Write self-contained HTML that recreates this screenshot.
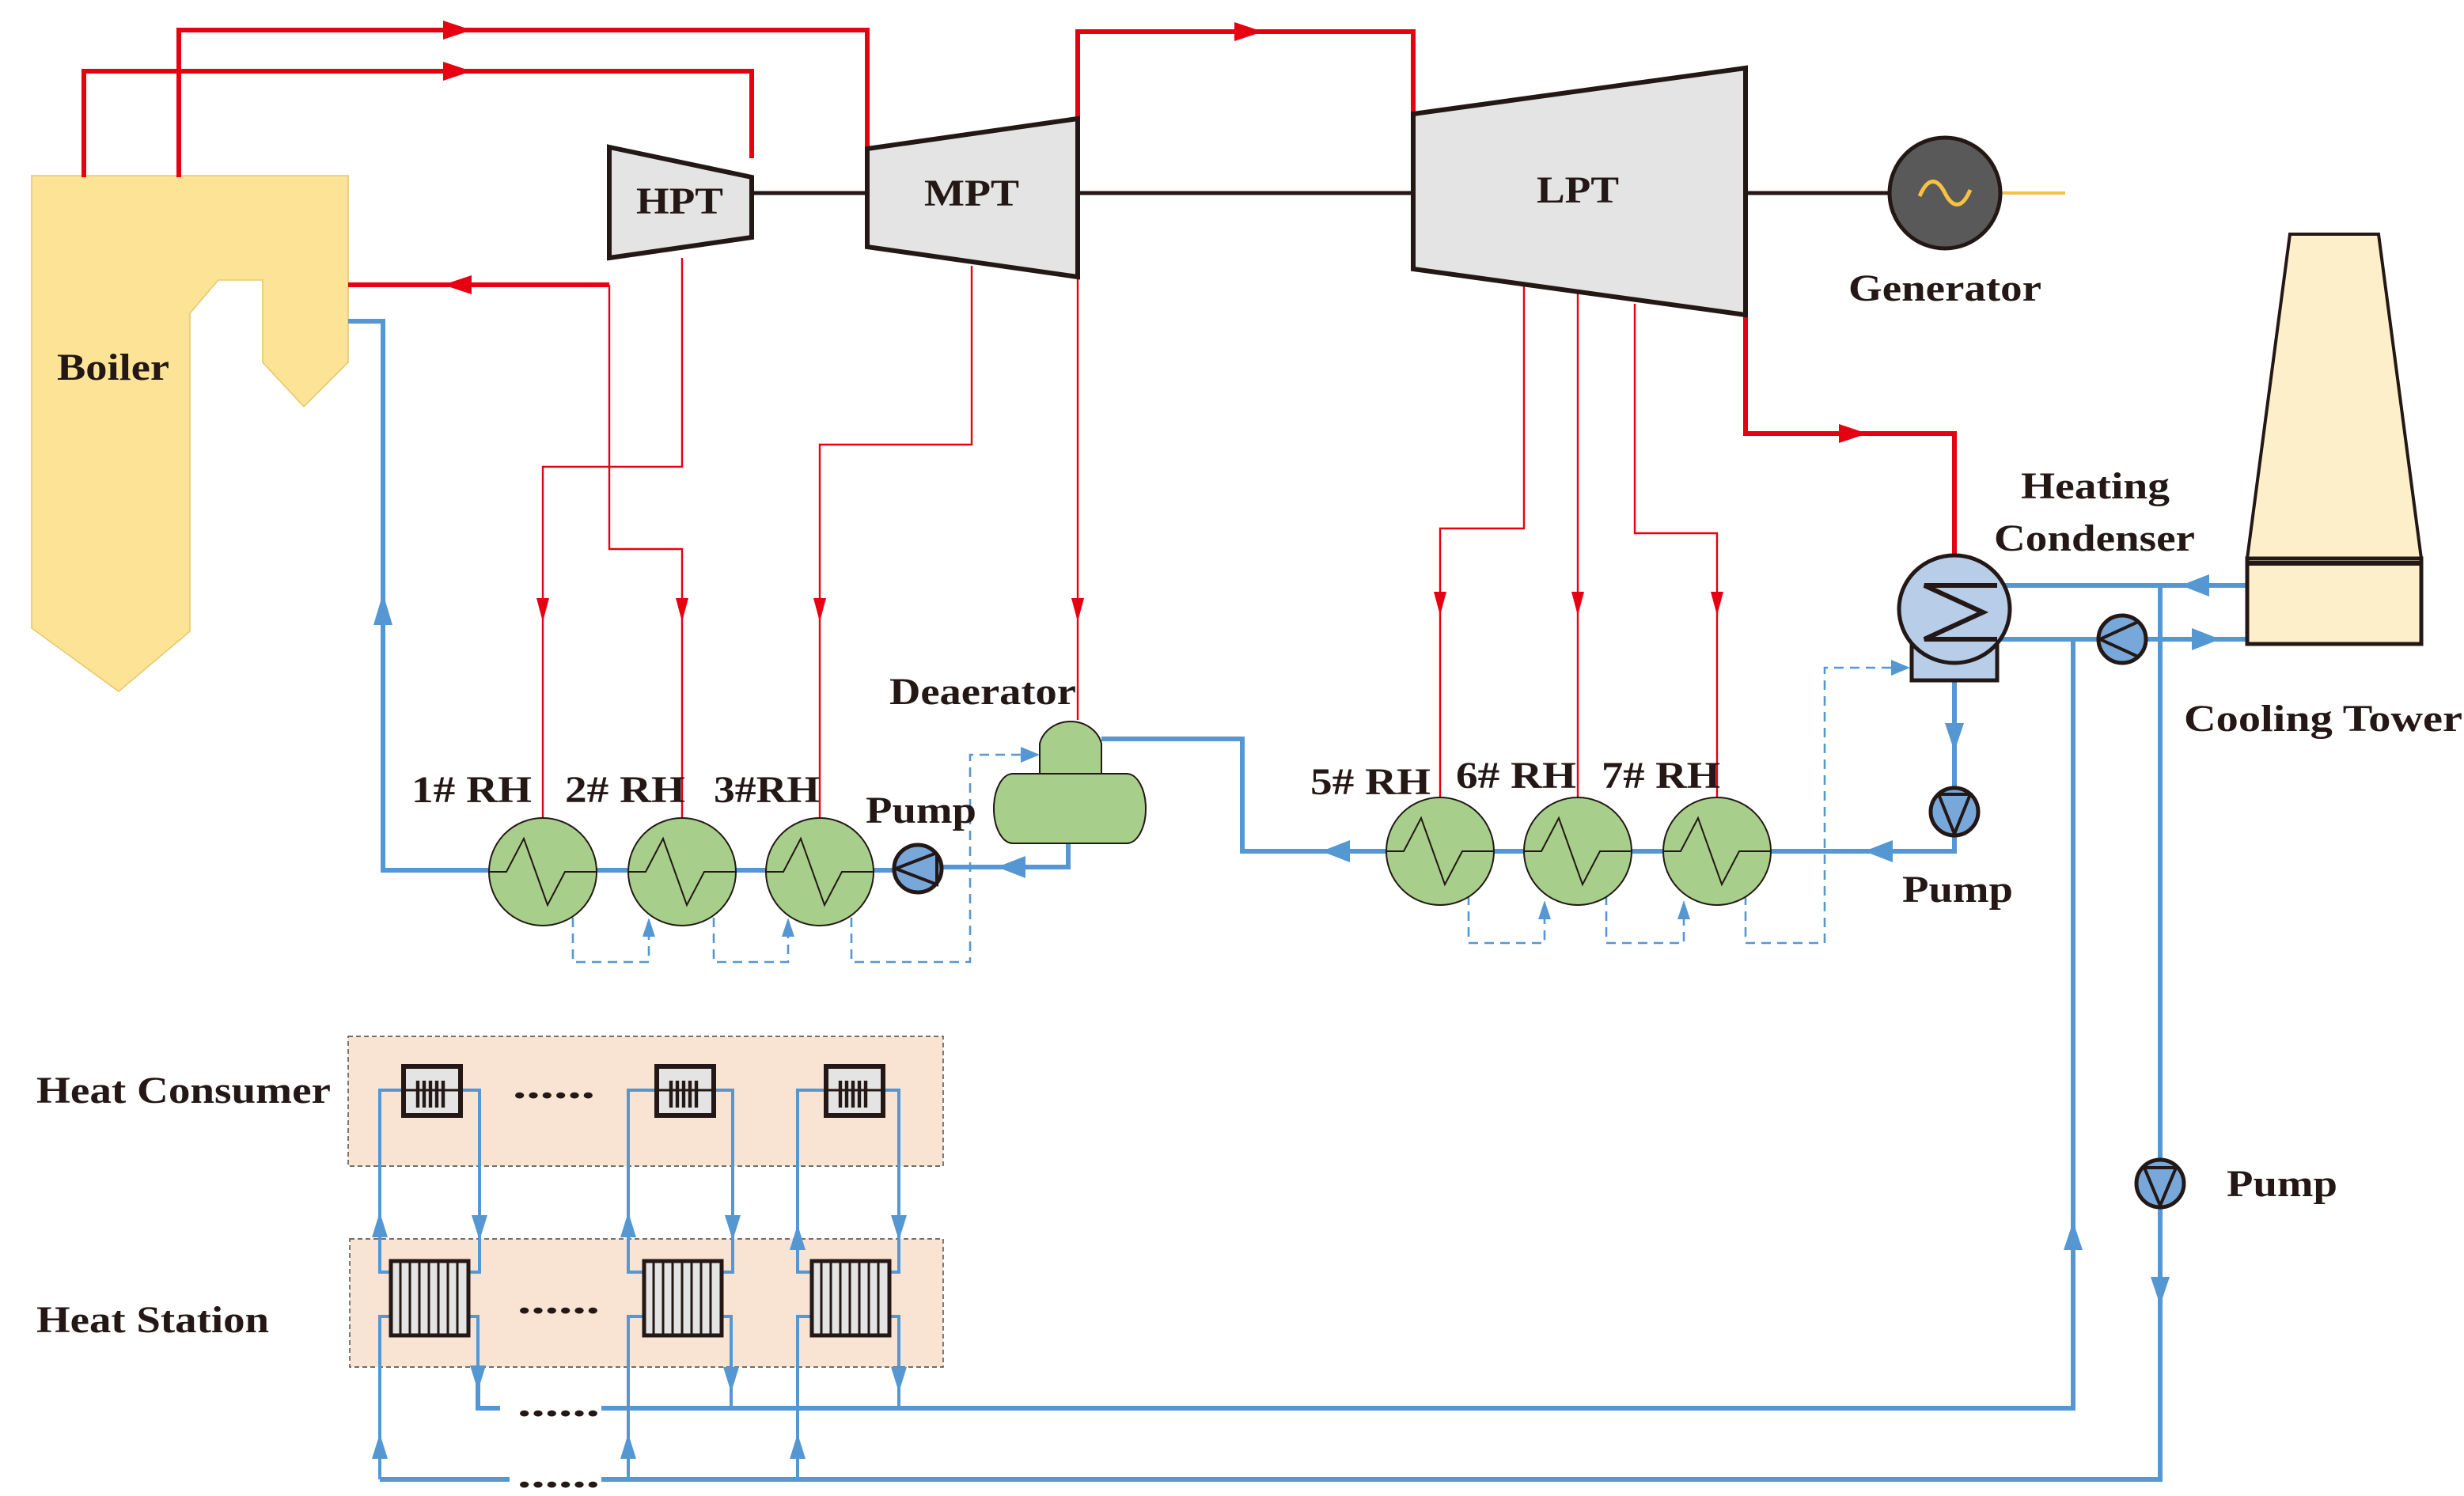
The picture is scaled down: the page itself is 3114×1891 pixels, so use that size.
<!DOCTYPE html>
<html><head><meta charset="utf-8"><style>
html,body{margin:0;padding:0;background:#fff;}
svg{display:block}
text{font-family:"Liberation Serif",serif;font-weight:bold;fill:#231815;font-size:24px}
</style></head><body>
<svg width="3114" height="1891" viewBox="0 0 1557 945.5" xmlns="http://www.w3.org/2000/svg">
<g fill="none" stroke-linejoin="miter">
<!-- Boiler -->
<polygon points="20,111 220,111 220,229 192,257 166,229 166,177 138,177 120,198 120,399 75,437 20,397" fill="#fce396" stroke="#e8c870" stroke-width="0.8"/>
<!-- main steam red thick -->
<g stroke="#e60012" stroke-width="3">
<polyline points="113,112 113,19 548,19 548,94"/>
<polyline points="53,112 53,45 475,45 475,100"/>
<polyline points="681,75 681,20 893,20 893,72"/>
<polyline points="385,180 220,180"/>
<polyline points="1103,199 1103,274 1235,274 1235,355"/>
</g>
<g fill="#e60012">
<polygon points="298,19 280,13 280,25"/>
<polygon points="298,45 280,39 280,51"/>
<polygon points="798,20 780,14 780,26"/>
<polygon points="280,180 298,174 298,186"/>
<polygon points="1180,274 1162,268 1162,280"/>
</g>
<!-- extractions thin red -->
<g stroke="#e60012" stroke-width="1.2">
<polyline points="431,163 431,295 343,295 343,520"/>
<polyline points="385,180 385,347 431,347 431,518"/>
<polyline points="614,168 614,281 518,281 518,518"/>
<polyline points="681,175 681,455"/>
<polyline points="963,180 963,334 910,334 910,505"/>
<polyline points="997,185 997,505"/>
<polyline points="1033,192 1033,337 1085,337 1085,505"/>
</g>
<g fill="#e60012">
<polygon points="343,393 339,378 347,378"/>
<polygon points="431,393 427,378 435,378"/>
<polygon points="518,393 514,378 522,378"/>
<polygon points="681,393 677,378 685,378"/>
<polygon points="910,389 906,374 914,374"/>
<polygon points="997,389 993,374 1001,374"/>
<polygon points="1085,389 1081,374 1089,374"/>
</g>
<!-- shafts -->
<g stroke="#231815" stroke-width="2.5">
<line x1="475" y1="122" x2="548" y2="122"/>
<line x1="681" y1="122" x2="893" y2="122"/>
<line x1="1103" y1="122" x2="1193" y2="122"/>
</g>
<line x1="1265" y1="122" x2="1305" y2="122" stroke="#f5c242" stroke-width="2"/>
<!-- turbines -->
<polygon points="385,93 475,112 475,150 385,163" fill="#e3e4e3" stroke="#231815" stroke-width="3"/>
<polygon points="548,94 681,75 681,175 548,156" fill="#e3e4e3" stroke="#231815" stroke-width="3"/>
<polygon points="893,72 1103,43 1103,199 893,170" fill="#e3e4e3" stroke="#231815" stroke-width="3"/>
<!-- generator -->
<circle cx="1229" cy="122" r="35" fill="#595959" stroke="#231815" stroke-width="2.5"/>
<path d="M1213,124 C1219,110 1225,114 1229,122 C1233,130 1239,134 1245,120" stroke="#f5c242" stroke-width="2.5"/>

<!-- blue feedwater -->
<g stroke="#5497d3" stroke-width="3">
<polyline points="220,203 242,203 242,550 580,550"/>
<polyline points="594,548 675,548 675,533"/>
<polyline points="696,467 785,467 785,538 1235,538 1235,528"/>
<polyline points="1235,430 1235,498"/>
<line x1="1262" y1="370" x2="1420" y2="370"/>
<line x1="1262" y1="404" x2="1420" y2="404"/>
<polyline points="1310,404 1310,890 380,890"/>
<polyline points="1365,370 1365,935 380,935"/>
<line x1="240" y1="935" x2="322" y2="935"/>
<polyline points="302,868 302,890 316,890"/>
</g>
<g fill="#5497d3">
<polygon points="242,375 236,395 248,395"/>
<polygon points="630,548 648,541 648,555"/>
<polygon points="835,538 853,531 853,545"/>
<polygon points="1178,538 1196,531 1196,545"/>
<polygon points="1235,475 1229,457 1241,457"/>
<polygon points="1378,370 1396,363 1396,377"/>
<polygon points="1403,404 1385,397 1385,411"/>
<polygon points="1310,772 1304,790 1316,790"/>
<polygon points="1365,825 1359,807 1371,807"/>
</g>
<!-- dashed drains -->
<g stroke="#5497d3" stroke-width="1.3" stroke-dasharray="6,4">
<polyline points="362,580 362,608 410,608 410,590"/>
<polyline points="451,580 451,608 498,608 498,590"/>
<polyline points="538,580 538,608 613,608 613,477 648,477"/>
<polyline points="928,566 928,596 976,596 976,578"/>
<polyline points="1015,566 1015,596 1064,596 1064,578"/>
<polyline points="1103,566 1103,596 1153,596 1153,422 1195,422"/>
</g>
<g fill="#5497d3">
<polygon points="410,580 406,592 414,592"/>
<polygon points="498,580 494,592 502,592"/>
<polygon points="657,477 645,472 645,482"/>
<polygon points="976,569 972,581 980,581"/>
<polygon points="1064,569 1060,581 1068,581"/>
<polygon points="1207,422 1195,417 1195,427"/>
</g>
<!-- RH heaters -->
<g fill="#a7ce8a" stroke="#231815" stroke-width="1">
<ellipse cx="343" cy="551" rx="34" ry="34"/>
<ellipse cx="431" cy="551" rx="34" ry="34"/>
<ellipse cx="518" cy="551" rx="34" ry="34"/>
<ellipse cx="910" cy="538" rx="34" ry="34"/>
<ellipse cx="997" cy="538" rx="34" ry="34"/>
<ellipse cx="1085" cy="538" rx="34" ry="34"/>
</g>
<g stroke="#231815" stroke-width="1">
<polyline points="309,551 320,551 331,530 346,572 357,551 377,551"/>
<polyline points="397,551 408,551 419,530 434,572 445,551 465,551"/>
<polyline points="484,551 495,551 506,530 521,572 532,551 552,551"/>
<polyline points="876,538 887,538 898,517 913,559 924,538 944,538"/>
<polyline points="963,538 974,538 985,517 1000,559 1011,538 1031,538"/>
<polyline points="1051,538 1062,538 1073,517 1088,559 1099,538 1119,538"/>
</g>
<!-- pumps -->
<g fill="#78a7da" stroke="#231815" stroke-width="2.5">
<circle cx="580" cy="549" r="15"/>
<circle cx="1235" cy="513" r="15"/>
<circle cx="1341" cy="404" r="15"/>
<circle cx="1365" cy="748" r="15"/>
</g>
<g stroke="#231815" stroke-width="2" fill="none">
<polyline points="592,539 566,549 592,559 592,539"/>
<polyline points="1225,502 1235,527 1245,502 1225,502"/>
<polyline points="1351,393 1327,404 1351,415"/>
<polyline points="1355,738 1365,762 1375,738 1355,738"/>
</g>
<!-- deaerator -->
<path d="M657,489 L657,470 A20,18 0 0 1 696,470 L696,489 Z" fill="#a7ce8a" stroke="#231815" stroke-width="1"/>
<path d="M640,489 L712,489 A12,22 0 0 1 712,533 L640,533 A12,22 0 0 1 640,489 Z" fill="#a7ce8a" stroke="#231815" stroke-width="1"/>
<!-- heating condenser -->
<rect x="1208" y="385" width="54" height="45" fill="#b7cde8" stroke="#231815" stroke-width="2.5"/>
<ellipse cx="1235" cy="385" rx="35" ry="34" fill="#b7cde8" stroke="#231815" stroke-width="2.5"/>
<polyline points="1262,370 1216,370 1253,387 1216,404 1262,404" stroke="#231815" stroke-width="3"/>
<!-- cooling tower -->
<polygon points="1447,148 1503,148 1530,353 1420,353" fill="#fdefc9" stroke="#231815" stroke-width="2"/>
<rect x="1420" y="353" width="110" height="54" fill="#fdefc9" stroke="#231815" stroke-width="2.5"/>
<line x1="1420" y1="356" x2="1530" y2="356" stroke="#231815" stroke-width="3"/>

<!-- heat network boxes -->
<rect x="220" y="655" width="376" height="82" fill="#f9e4d4" stroke="#444" stroke-width="0.7" stroke-dasharray="3,2"/>
<rect x="221" y="783" width="375" height="81" fill="#f9e4d4" stroke="#444" stroke-width="0.7" stroke-dasharray="3,2"/>
<!-- heat network pipes -->
<g stroke="#5497d3" stroke-width="2">
<polyline points="240,935 240,832 247,832"/>
<polyline points="247,804 240,804 240,689 256,689"/>
<polyline points="290,689 303,689 303,804 297,804"/>
<polyline points="297,832 302,832 302,870"/>
<polyline points="397,935 397,832 407,832"/>
<polyline points="407,804 397,804 397,689 416,689"/>
<polyline points="450,689 463,689 463,804 457,804"/>
<polyline points="457,832 462,832 462,890"/>
<polyline points="504,935 504,832 513,832"/>
<polyline points="513,804 504,804 504,689 522,689"/>
<polyline points="557,689 568,689 568,804 563,804"/>
<polyline points="563,832 568,832 568,890"/>
</g>
<g fill="#5497d3">
<polygon points="240,766 235,782 245,782"/>
<polygon points="303,784 298,768 308,768"/>
<polygon points="240,906 235,922 245,922"/>
<polygon points="302,879 297,863 307,863"/>
<polygon points="397,766 392,782 402,782"/>
<polygon points="463,784 458,768 468,768"/>
<polygon points="397,906 392,922 402,922"/>
<polygon points="462,880 457,864 467,864"/>
<polygon points="504,774 499,790 509,790"/>
<polygon points="568,784 563,768 573,768"/>
<polygon points="504,906 499,922 509,922"/>
<polygon points="568,880 563,864 573,864"/>
</g>
<!-- consumers -->
<g fill="#e3e4e3" stroke="#231815" stroke-width="3">
<rect x="255" y="674" width="36" height="31"/>
<rect x="415" y="674" width="36" height="31"/>
<rect x="522" y="674" width="36" height="31"/>
</g>
<g stroke="#231815" stroke-width="2.2">
<path d="M264,683v17M268,683v17M272,683v17M276,683v17M280,683v17"/>
<path d="M424,683v17M428,683v17M432,683v17M436,683v17M440,683v17"/>
<path d="M531,683v17M535,683v17M539,683v17M543,683v17M547,683v17"/>
<path d="M256,689h34M416,689h34M523,689h34" stroke-width="1.5"/>
</g>
<!-- station radiators -->
<g fill="#e3e4e3" stroke="#231815" stroke-width="2.5">
<rect x="247" y="797" width="49" height="47"/>
<rect x="407" y="797" width="49" height="47"/>
<rect x="513" y="797" width="49" height="47"/>
</g>
<g stroke="#231815" stroke-width="1.5">
<path d="M253,797v47M259,797v47M265,797v47M271,797v47M277,797v47M283,797v47M289,797v47"/>
<path d="M413,797v47M419,797v47M425,797v47M431,797v47M437,797v47M443,797v47M449,797v47"/>
<path d="M519,797v47M525,797v47M531,797v47M537,797v47M543,797v47M549,797v47M555,797v47"/>
</g>
</g>
<!-- texts -->
<text x="36" y="240" textLength="71" lengthAdjust="spacingAndGlyphs">Boiler</text>
<text x="402" y="135" textLength="55" lengthAdjust="spacingAndGlyphs">HPT</text>
<text x="584" y="130" textLength="60" lengthAdjust="spacingAndGlyphs">MPT</text>
<text x="971" y="128" textLength="52" lengthAdjust="spacingAndGlyphs">LPT</text>
<text x="1168" y="190" textLength="122" lengthAdjust="spacingAndGlyphs">Generator</text>
<text x="1277" y="315" textLength="94" lengthAdjust="spacingAndGlyphs">Heating</text>
<text x="1260" y="348" textLength="127" lengthAdjust="spacingAndGlyphs">Condenser</text>
<text x="1380" y="462" textLength="176" lengthAdjust="spacingAndGlyphs">Cooling Tower</text>
<text x="562" y="445" textLength="118" lengthAdjust="spacingAndGlyphs">Deaerator</text>
<text x="260" y="507" textLength="76" lengthAdjust="spacingAndGlyphs">1# RH</text>
<text x="357" y="507" textLength="76" lengthAdjust="spacingAndGlyphs">2# RH</text>
<text x="451" y="507" textLength="67" lengthAdjust="spacingAndGlyphs">3#RH</text>
<text x="547" y="520" textLength="70" lengthAdjust="spacingAndGlyphs">Pump</text>
<text x="828" y="502" textLength="76" lengthAdjust="spacingAndGlyphs">5# RH</text>
<text x="920" y="498" textLength="76" lengthAdjust="spacingAndGlyphs">6# RH</text>
<text x="1012" y="498" textLength="75" lengthAdjust="spacingAndGlyphs">7# RH</text>
<text x="1202" y="570" textLength="70" lengthAdjust="spacingAndGlyphs">Pump</text>
<text x="1407" y="756" textLength="70" lengthAdjust="spacingAndGlyphs">Pump</text>
<text x="23" y="697" textLength="186" lengthAdjust="spacingAndGlyphs">Heat Consumer</text>
<text x="23" y="842" textLength="147" lengthAdjust="spacingAndGlyphs">Heat Station</text>
<text x="324" y="694" textLength="52" lengthAdjust="spacingAndGlyphs">......</text>
<text x="327" y="830" textLength="52" lengthAdjust="spacingAndGlyphs">......</text>
<text x="327" y="895" textLength="52" lengthAdjust="spacingAndGlyphs">......</text>
<text x="327" y="940" textLength="52" lengthAdjust="spacingAndGlyphs">......</text>
</svg>
</body></html>
